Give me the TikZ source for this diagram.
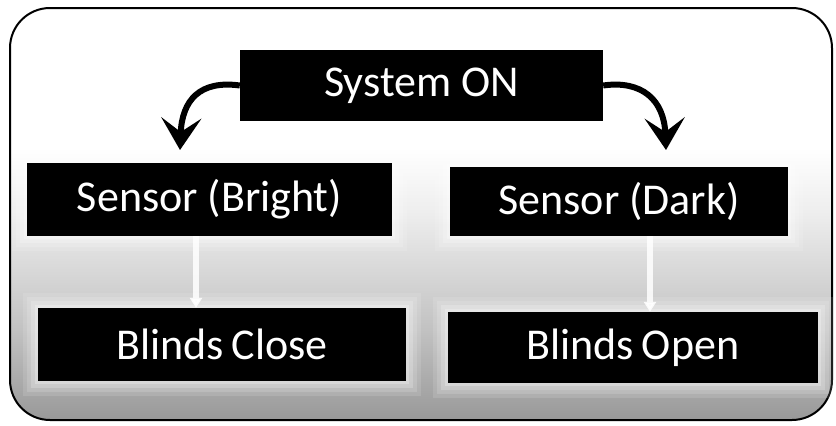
\documentclass[tikz,border=0pt]{standalone}
\usepackage{fontspec}
\setmainfont{Carlito}
\usetikzlibrary{arrows.meta}

% panel background: white at the top, greying towards the bottom
\pgfdeclareverticalshading{panelshade}{100bp}{%
  color(0bp)=(black!40); color(25bp)=(black!40); color(36bp)=(black!24);
  color(50bp)=(black!7); color(58bp)=(white); color(100bp)=(white)}

\tikzset{
  box/.style={fill=black, text=white, inner sep=0pt,
    font=\fontsize{44}{48}\selectfont,
    preaction={draw=white, line width=30pt, opacity=0.12},
    preaction={draw=white, line width=22pt, opacity=0.15},
    preaction={draw=white, line width=14pt, opacity=0.2},
    preaction={draw=white, line width=6pt, opacity=0.25}},
  curvearrow/.style={line width=6pt, draw=black,
    -{Stealth[length=32pt, width=40pt, inset=14pt]}},
  whitearrow/.style={line width=6pt, draw=white, opacity=0.85,
    -{Triangle[length=10pt, width=12pt]}}
}

\begin{document}
\begin{tikzpicture}[x=1pt, y=-1pt]
  \useasboundingbox (0,0) rectangle (836,426);

  % panel
  \path[shading=panelshade] [rounded corners=40pt] (10,8) rectangle (832,420);
  \draw[line width=2pt, rounded corners=40pt] (10,8) rectangle (832,420);

  % boxes
  \node[box, minimum width=363pt, minimum height=71pt] (sys) at (421.5,85.5) {System ON};
  \node[box, minimum width=365pt, minimum height=73pt] (sb)  at (209.5,199.5) {Sensor (Bright)};
  \node[box, minimum width=338pt, minimum height=69pt] (sd)  at (619,201.5) {Sensor (Dark)};
  \node[box, minimum width=368pt, minimum height=73pt] (bc)  at (222,344.5) {Blinds\hspace{0.18em}Close};
  \node[box, minimum width=370pt, minimum height=71pt] (bo)  at (633,347.5) {Blinds\hspace{0.18em}Open};

  % curved arrows out of the system box
  \coordinate (tipL) at (180,150);
  \coordinate (tipR) at (666,150);
  \draw[curvearrow] (sys.west) .. controls (200,80) and (182,100) .. (tipL);
  \draw[curvearrow] (sys.east) .. controls (642,80) and (664,100) .. (tipR);

  % sensor to blinds
  \draw[whitearrow] (sb.south -| 196,0) -- (bc.north -| 196,0);
  \draw[whitearrow] (sd.south -| 650,0) -- (bo.north -| 650,0);
\end{tikzpicture}
\end{document}
